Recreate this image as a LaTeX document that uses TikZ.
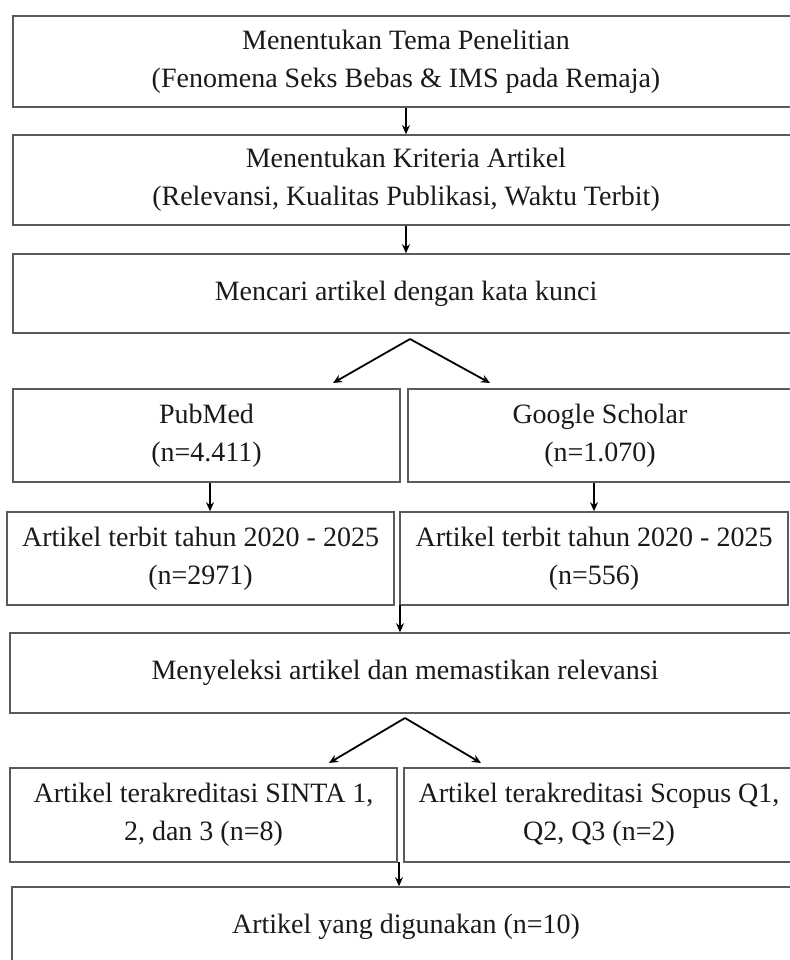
\documentclass[tikz,border=0pt]{standalone}
\usepackage{fontspec}
\setmainfont{Liberation Serif}
\usetikzlibrary{arrows.meta}
\definecolor{boxline}{HTML}{5A5A5A}
\definecolor{txt}{HTML}{1A1A1A}
\tikzset{
  box/.style={draw=boxline, line width=1.6pt, rectangle, inner sep=0pt, align=center,
    text=txt, font=\fontsize{28}{38}\selectfont},
  arr/.style={draw=black, line width=1.8pt, -{Stealth[length=9pt,width=8pt]}}
}
\begin{document}
\begin{tikzpicture}[x=1pt,y=-1pt]
\useasboundingbox (0,0) rectangle (789,960);
\fill[white] (0,0) rectangle (789,960);

\node[box, minimum width=786pt, minimum height=91pt] (b1) at (406,61.5)
  {Menentukan Tema Penelitian\\(Fenomena Seks Bebas \& IMS pada Remaja)};
\node[box, minimum width=786pt, minimum height=90pt] (b2) at (406,180)
  {Menentukan Kriteria Artikel\\(Relevansi, Kualitas Publikasi, Waktu Terbit)};
\node[box, minimum width=786pt, minimum height=79pt] (b3) at (406,293.5)
  {Mencari artikel dengan kata kunci};

\node[box, minimum width=387pt, minimum height=93pt] (pub) at (206.5,435.5)
  {PubMed\\(n=4.411)};
\node[box, minimum width=384pt, minimum height=93pt] (gs) at (600,435.5)
  {Google Scholar\\(n=1.070)};

\node[box, minimum width=387pt, minimum height=93pt] (t1) at (200.5,558.5)
  {Artikel terbit tahun 2020 - 2025\\(n=2971)};
\node[box, minimum width=388pt, minimum height=93pt] (t2) at (594,558.5)
  {Artikel terbit tahun 2020 - 2025\\(n=556)};

\node[box, minimum width=790pt, minimum height=80pt] (sel) at (405,673)
  {Menyeleksi artikel dan memastikan relevansi};

\node[box, minimum width=387pt, minimum height=94pt] (s1) at (203.5,815)
  {Artikel terakreditasi SINTA 1,\\2, dan 3 (n=8)};
\node[box, minimum width=390pt, minimum height=94pt] (s2) at (599,815)
  {Artikel terakreditasi Scopus Q1,\\Q2, Q3 (n=2)};

\node[box, minimum width=788pt, minimum height=80pt] (fin) at (406,927)
  {Artikel yang digunakan (n=10)};

% arrows
\draw[arr] (b1.south) -- (b2.north);
\draw[arr] (b2.south) -- (b3.north);

\coordinate (a1) at (410,339);
\coordinate (l1) at (333,383);
\coordinate (r1) at (490,383);
\draw[arr] (a1) -- (l1);
\draw[arr] (a1) -- (r1);

\draw[arr] ([xshift=3.5pt]pub.south) -- ([xshift=3.5pt]pub.south |- t1.north);
\draw[arr] (gs.south -| t2.north) -- (t2.north);

\coordinate (m1) at (400,605);
\draw[arr] (m1) -- (m1 |- sel.north);

\coordinate (a2) at (405,718);
\coordinate (l2) at (329,763);
\coordinate (r2) at (481,763);
\draw[arr] (a2) -- (l2);
\draw[arr] (a2) -- (r2);

\coordinate (m2) at (399,862);
\draw[arr] (m2) -- (m2 |- fin.north);
\end{tikzpicture}
\end{document}
